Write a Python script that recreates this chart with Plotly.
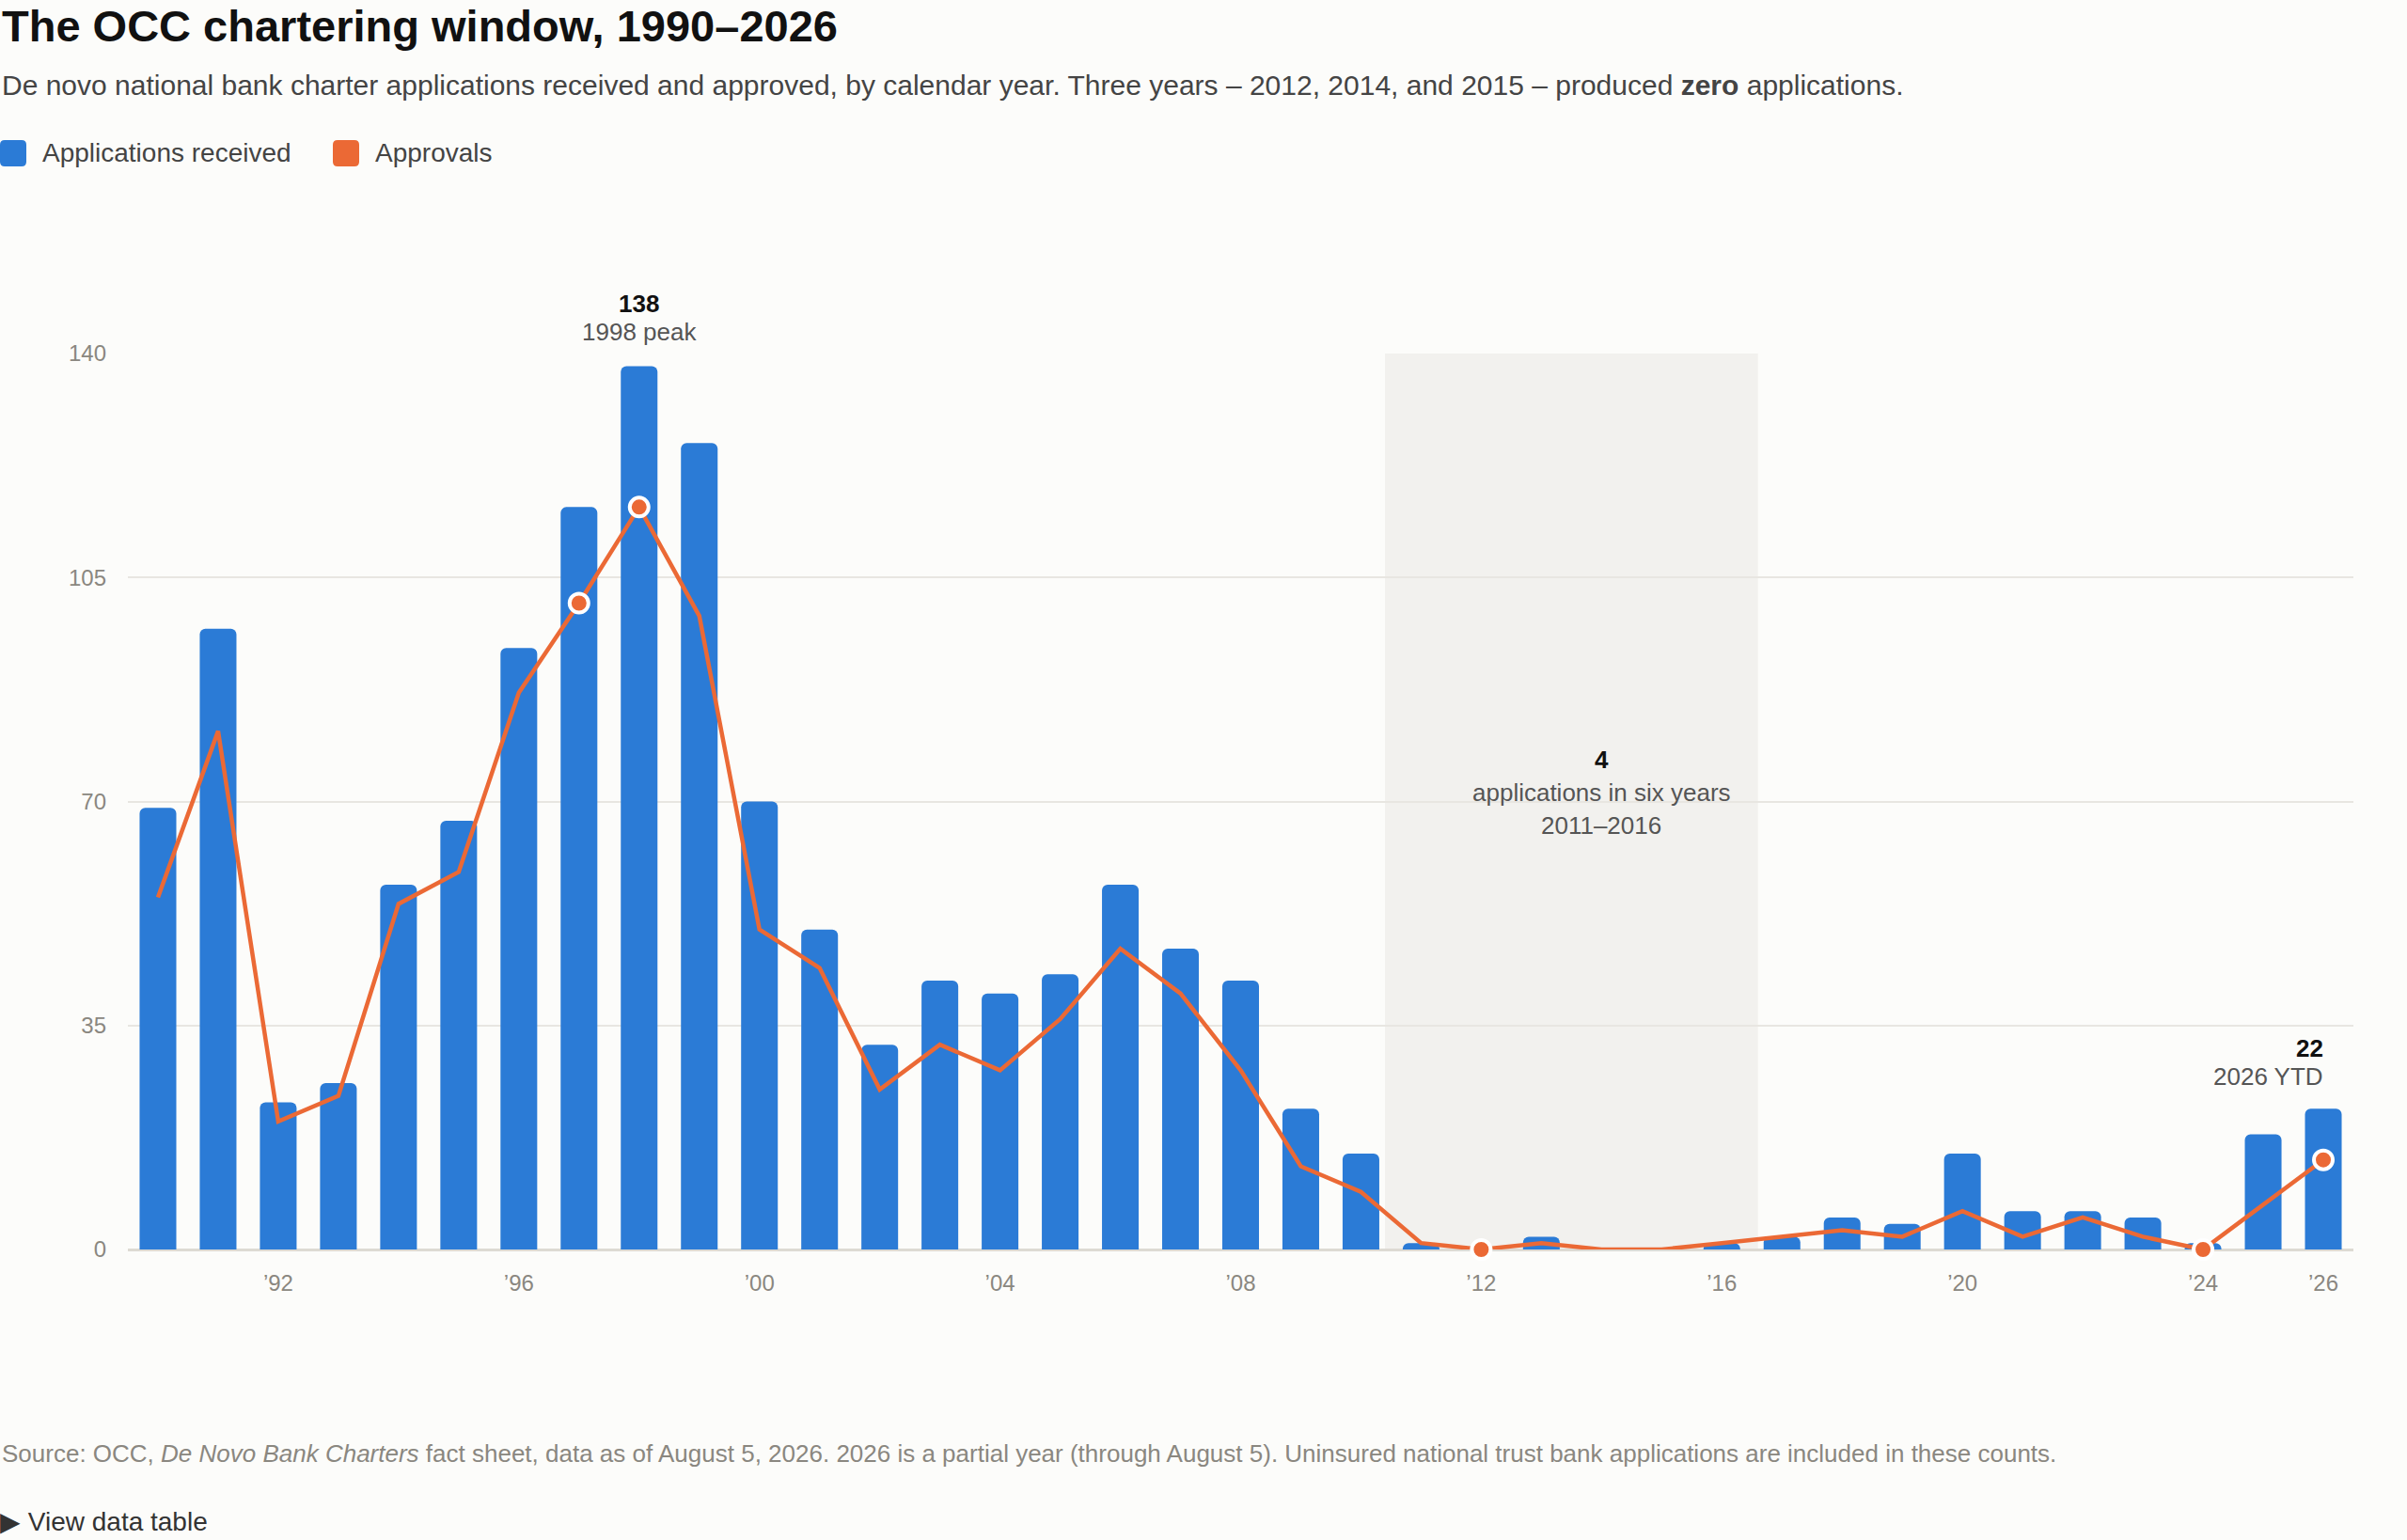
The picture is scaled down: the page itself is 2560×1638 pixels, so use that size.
import plotly.graph_objects as go

# OCC de novo national bank charters, by calendar year
years = list(range(1990, 2027))
applications = [69, 97, 23, 26, 57, 67, 94, 116, 138, 126,
                70, 50, 32, 42, 40, 43, 57, 47, 42, 22,
                15, 1, 0, 2, 0, 0, 1, 2, 5, 4,
                15, 6, 6, 5, 1, 18, 22]
approvals = [55, 81, 20, 24, 54, 59, 87, 101, 116, 99,
             50, 44, 25, 32, 28, 36, 47, 40, 28, 13,
             9, 1, 0, 1, 0, 0, 1, 2, 3, 2,
             6, 2, 5, 2, 0, 7, 14]
dot_years = [1997, 1998, 2012, 2024, 2026]
tick_years = [1992, 1996, 2000, 2004, 2008, 2012, 2016, 2020, 2024, 2026]
tick_text = ["’" + str(y)[2:] for y in tick_years]
y_ticks = [0, 35, 70, 105, 140]

BLUE = "#2b7bd6"
ORANGE = "#eb6935"
BG = "#fcfcfa"
FONT = "Liberation Sans, Arial, sans-serif"

W, H = 2560, 1638
L, R, T, B = 136, 57, 376, 309
PW, PH = W - L - R, H - T - B


def px(x):
    return (x - L) / PW


def py(y):
    return (H - B - y) / PH


fig = go.Figure()

fig.add_trace(go.Bar(
    x=years, y=applications, name="Applications received",
    marker=dict(color=BLUE, cornerradius=6, line=dict(width=0)),
    showlegend=False,
))
fig.add_trace(go.Scatter(
    x=years, y=approvals, name="Approvals", mode="lines",
    line=dict(color=ORANGE, width=4.5),
    showlegend=False,
))
dot_vals = [approvals[years.index(y)] for y in dot_years]
fig.add_trace(go.Scatter(
    x=dot_years, y=dot_vals, mode="markers",
    marker=dict(color=ORANGE, size=20, line=dict(color="white", width=4)),
    showlegend=False, cliponaxis=False,
))

# shaded 2011-2016 window
fig.add_shape(type="rect", xref="x", yref="y", x0=2010.4, x1=2016.6, y0=0, y1=140,
              fillcolor="#f2f1ee", line_width=0, layer="below")

ann = []


def text(x, y, s, size, color, anchor="left", bold=False):
    if bold:
        s = "<b>" + s + "</b>"
    ann.append(dict(xref="paper", yref="paper", x=px(x), y=py(y), text=s,
                    showarrow=False, xanchor=anchor, yanchor="middle",
                    font=dict(family=FONT, size=size, color=color)))


text(0, 28, "The OCC chartering window, 1990–2026", 47, "#111111", bold=True)
text(0, 90, "De novo national bank charter applications received and approved, by calendar year. "
     "Three years – 2012, 2014, and 2015 – produced <b>zero</b> applications.", 30, "#444444")

# legend keys
for x0, label, col in [(0, "Applications received", BLUE), (354, "Approvals", ORANGE)]:
    fig.add_shape(type="path", xref="paper", yref="paper", xsizemode="pixel", ysizemode="pixel",
                  xanchor=px(x0), yanchor=py(163),
                  path="M 5 14 L 23 14 Q 28 14 28 9 L 28 -9 Q 28 -14 23 -14 L 5 -14 "
                       "Q 0 -14 0 -9 L 0 9 Q 0 14 5 14 Z",
                  fillcolor=col, line_width=0)
    text(x0 + 43, 163, label, 28, "#444444")

text(0, 1546, "Source: OCC, <i>De Novo Bank Charters</i> fact sheet, data as of August 5, 2026. "
     "2026 is a partial year (through August 5). Uninsured national trust bank applications "
     "are included in these counts.", 26, "#8a8780")
text(-2, 1618, "▶ View data table", 28, "#333333")

# data callouts
peak = applications[years.index(1998)]
ann.append(dict(x=1998, y=peak, text="<b>%d</b>" % peak, showarrow=False, yanchor="middle",
                yshift=67, font=dict(family=FONT, size=26, color="#111111")))
ann.append(dict(x=1998, y=peak, text="1998 peak", showarrow=False, yanchor="middle",
                yshift=37, font=dict(family=FONT, size=26, color="#555555")))

window = sum(applications[years.index(2011):years.index(2016) + 1])
for i, s in enumerate(["<b>%d</b>" % window, "applications in six years", "2011–2016"]):
    ann.append(dict(xref="x", yref="paper", x=2014, y=py(808 + 35 * i), text=s, showarrow=False,
                    yanchor="middle",
                    font=dict(family=FONT, size=26, color="#111111" if i == 0 else "#555555")))

last = applications[-1]
ann.append(dict(x=2026, y=last, text="<b>%d</b>" % last, showarrow=False, xanchor="right",
                xshift=2, yanchor="middle", yshift=64, font=dict(family=FONT, size=26, color="#111111")))
ann.append(dict(x=2026, y=last, text="2026 YTD", showarrow=False, xanchor="right",
                xshift=2, yanchor="middle", yshift=34, font=dict(family=FONT, size=26, color="#555555")))

fig.update_layout(
    width=W, height=H,
    margin=dict(l=L, r=R, t=T, b=B),
    paper_bgcolor=BG, plot_bgcolor=BG,
    bargap=0.39,
    font=dict(family=FONT),
    annotations=ann,
    showlegend=False,
    xaxis=dict(range=[1989.5, 2026.5], tickvals=tick_years, ticktext=tick_text,
               showgrid=False, zeroline=False, showline=False, ticks="",
               tickfont=dict(size=24, color="#8a8780"), ticklabelstandoff=19),
    yaxis=dict(range=[0, 140], tickvals=y_ticks, showgrid=True, gridcolor="#e8e6e1", gridwidth=2,
               zeroline=True, zerolinecolor="#dddad3", zerolinewidth=3, ticks="",
               tickfont=dict(size=24, color="#8a8780"), ticklabelstandoff=22),
)

fig.write_html("out.html", config={"displayModeBar": False},
               post_script="document.body.style.margin='0';")
